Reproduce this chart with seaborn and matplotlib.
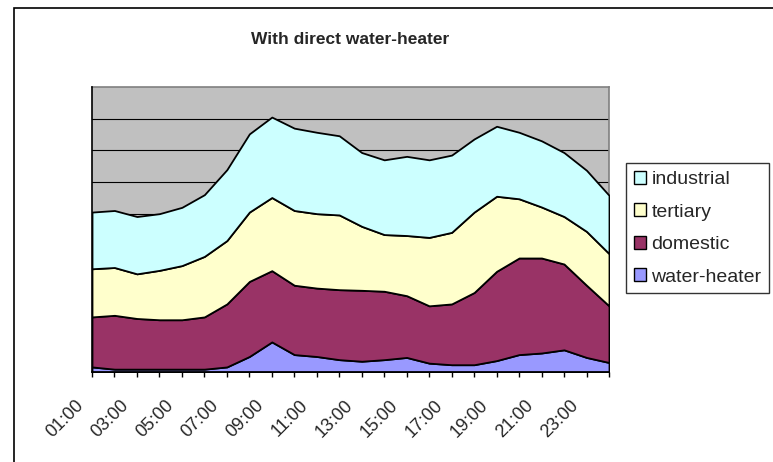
import matplotlib
matplotlib.use("Agg")
import matplotlib.pyplot as plt
import matplotlib.transforms as mtransforms
import seaborn as sns
import numpy as np
from matplotlib.patches import Rectangle, Patch

hours = ["%02d:00" % h for h in range(1, 25)]
water_heater = [0.16, 0.09, 0.09, 0.09, 0.09, 0.09, 0.16, 0.49, 0.95, 0.55, 0.49, 0.39,
                0.34, 0.39, 0.46, 0.28, 0.23, 0.23, 0.36, 0.55, 0.60, 0.70, 0.46, 0.30]
domestic = [1.58, 1.70, 1.60, 1.56, 1.56, 1.65, 1.99, 2.37, 2.25, 2.19, 2.16, 2.21,
            2.24, 2.16, 1.95, 1.81, 1.92, 2.28, 2.82, 3.05, 3.00, 2.71, 2.28, 1.79]
tertiary = [1.52, 1.51, 1.41, 1.56, 1.71, 1.91, 2.00, 2.19, 2.31, 2.36, 2.35, 2.36,
            2.02, 1.79, 1.90, 2.16, 2.26, 2.54, 2.37, 1.87, 1.61, 1.50, 1.70, 1.65]
industrial = [1.79, 1.80, 1.81, 1.79, 1.84, 1.95, 2.24, 2.47, 2.54, 2.60, 2.57, 2.50,
              2.33, 2.36, 2.50, 2.45, 2.44, 2.31, 2.21, 2.10, 2.09, 2.02, 1.93, 1.84]
series_names = ["water-heater", "domestic", "tertiary", "industrial"]
colors = ["#9999FF", "#993366", "#FFFFCC", "#CCFFFF"]

sns.set_style("white")
plt.rcParams['font.family'] = ['Liberation Sans', 'DejaVu Sans']

W, H = 773, 462
fig = plt.figure(figsize=(W / 100, H / 100), dpi=100)
fig.patch.set_facecolor("white")
fig.add_artist(Rectangle((14 / W, -0.5), 3.0, 1.5 - 8 / H, transform=fig.transFigure,
                         fill=False, edgecolor="black", linewidth=1.2))

ax = fig.add_axes([92 / W, 1 - 372 / H, 517 / W, 285 / H])
ax.set_facecolor("#C0C0C0")
x = np.arange(len(hours))
ax.stackplot(x, water_heater, domestic, tertiary, industrial, colors=colors,
             edgecolor="black", linewidth=1.3, zorder=3)
ax.set_xlim(0, len(hours) - 1)
ax.set_ylim(0, 9)
for g in range(1, 9):
    ax.axhline(g, color="black", linewidth=0.8, zorder=1)
ax.set_yticks([])
ax.set_xticks(x)
ax.set_xticklabels([h if i % 2 == 0 else "" for i, h in enumerate(hours)],
                   rotation=45, ha="right", va="center", rotation_mode="anchor", fontsize=13)
ax.tick_params(axis="x", direction="out", length=3.6, width=1, color="black", pad=0, bottom=True)
offset = mtransforms.ScaledTranslation(-0.11, -0.26, fig.dpi_scale_trans)
for lbl in ax.get_xticklabels():
    lbl.set_transform(lbl.get_transform() + offset)
for s in ["top", "right"]:
    ax.spines[s].set_color("#808080")
    ax.spines[s].set_linewidth(1.2)
for s in ["left", "bottom"]:
    ax.spines[s].set_color("black")
    ax.spines[s].set_linewidth(1.2)
    ax.spines[s].set_zorder(5)

fig.text(350 / W, 1 - 39 / H, "With direct water-heater", ha="center", va="center",
         fontsize=12.5, fontweight="bold")

handles = [Patch(facecolor=c, edgecolor="black", label=n) for n, c in zip(series_names, colors)][::-1]
leg = fig.legend(handles=handles, loc="upper left", bbox_to_anchor=(626 / W, 1 - 163 / H),
                 frameon=True, fontsize=14, handlelength=0.65, handleheight=0.65,
                 handletextpad=0.25, labelspacing=0.78, borderpad=0.4, fancybox=False,
                 borderaxespad=0)
leg.get_frame().set_edgecolor("black")
leg.get_frame().set_linewidth(1.0)

fig.savefig("out.png", dpi=100)
